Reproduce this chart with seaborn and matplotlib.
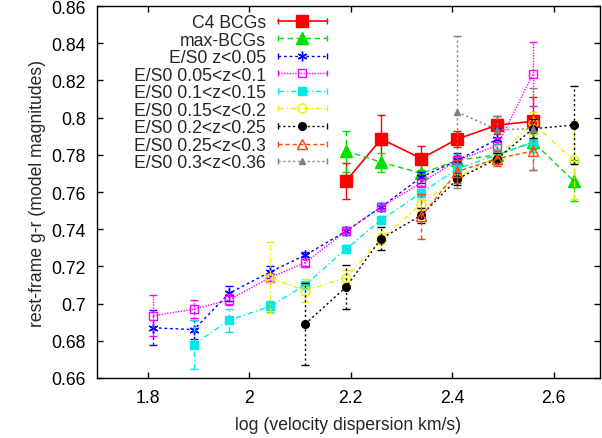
import numpy as np
import pandas as pd
import matplotlib
matplotlib.use("Agg")
import matplotlib.pyplot as plt
import seaborn as sns
from matplotlib.lines import Line2D
from matplotlib.legend_handler import HandlerLine2D
from matplotlib.ticker import FuncFormatter

# ---------------- data ----------------
c4_x = [2.191, 2.260, 2.339, 2.410, 2.489, 2.559]
c4_y = [0.766, 0.7885, 0.778, 0.7885, 0.796, 0.798]
c4_e = [0.0097, 0.013, 0.0067, 0.0045, 0.005, 0.013]

max_x = [2.191, 2.260, 2.339, 2.410, 2.489, 2.559, 2.639]
max_y = [0.782, 0.776, 0.770, 0.777, 0.780, 0.787, 0.766]
max_e = [0.011, 0.005, 0.002, 0.003, 0.003, 0.004, 0.011]

z1_x = [1.811, 1.891, 1.960, 2.041, 2.110, 2.191, 2.260, 2.339, 2.410, 2.489]
z1_y = [0.687, 0.686, 0.7055, 0.717, 0.726, 0.739, 0.752, 0.768, 0.777, 0.7885]
z1_e = [0.0095, 0.005, 0.004, 0.003, 0.002, 0.002, 0.002, 0.003, 0.004, 0.006]

z2_x = [1.811, 1.891, 1.960, 2.041, 2.110, 2.191, 2.260, 2.339, 2.410, 2.489, 2.559]
z2_y = [0.6935, 0.697, 0.702, 0.714, 0.722, 0.739, 0.752, 0.765, 0.777, 0.785, 0.8235]
z2_e = [0.011, 0.005, 0.003, 0.002, 0.002, 0.001, 0.001, 0.002, 0.002, 0.004, 0.017]

z3_x = [1.891, 1.960, 2.041, 2.110, 2.191, 2.260, 2.339, 2.410, 2.489, 2.559]
z3_y = [0.678, 0.691, 0.6985, 0.710, 0.7295, 0.745, 0.7595, 0.7725, 0.780, 0.7865]
z3_e = [0.013, 0.006, 0.003, 0.002, 0.002, 0.002, 0.002, 0.002, 0.003, 0.005]

z4_x = [2.041, 2.110, 2.191, 2.260, 2.339, 2.410, 2.489, 2.559, 2.639]
z4_y = [0.714, 0.707, 0.714, 0.735, 0.7535, 0.768, 0.779, 0.797, 0.777]
z4_e = [0.019, 0.006, 0.004, 0.003, 0.003, 0.003, 0.003, 0.006, 0.021]

z5_x = [2.110, 2.191, 2.260, 2.339, 2.410, 2.489, 2.559, 2.639]
z5_y = [0.689, 0.709, 0.735, 0.7475, 0.767, 0.778, 0.794, 0.796]
z5_e = [0.022, 0.012, 0.006, 0.004, 0.003, 0.003, 0.005, 0.021]

z6_x = [2.339, 2.410, 2.489, 2.559]
z6_y = [0.747, 0.771, 0.778, 0.782]
z6_e = [0.012, 0.006, 0.004, 0.010]

z7_x = [2.410, 2.489, 2.559]
z7_y = [0.803, 0.7935, 0.794]
z7_e = [0.041, 0.0075, 0.022]

labels = ["C4 BCGs", "max-BCGs", "E/S0 z<0.05", "E/S0 0.05<z<0.1",
          "E/S0 0.1<z<0.15", "E/S0 0.15<z<0.2", "E/S0 0.2<z<0.25",
          "E/S0 0.25<z<0.3", "E/S0 0.3<z<0.36"]

x_ticks = [1.8, 2.0, 2.2, 2.4, 2.6]
y_ticks = [0.66, 0.68, 0.70, 0.72, 0.74, 0.76, 0.78, 0.80, 0.82, 0.84, 0.86]

series = [
    (c4_x, c4_y, c4_e), (max_x, max_y, max_e), (z1_x, z1_y, z1_e),
    (z2_x, z2_y, z2_e), (z3_x, z3_y, z3_e), (z4_x, z4_y, z4_e),
    (z5_x, z5_y, z5_e), (z6_x, z6_y, z6_e), (z7_x, z7_y, z7_e),
]

# ---------------- styles ----------------
styles = [
    dict(color="#ff0000", ls="-", marker="s", ms=8.0, filled=True, lw=1.2),
    dict(color="#00e000", ls=(0, (4, 2.5)), marker="^", ms=8.0, filled=True, lw=1.0),
    dict(color="#0000ff", ls=(0, (2, 2)), marker=(6, 2, 0), ms=7.0, filled=True, lw=1.0),
    dict(color="#ff00ff", ls=(0, (1, 1)), marker="s", ms=6.0, filled=False, lw=1.0),
    dict(color="#00e8e8", ls=(0, (4, 2, 1, 2)), marker="s", ms=6.0, filled=True, lw=1.0),
    dict(color="#eeee00", ls=(0, (4, 2, 1, 2)), marker="o", ms=6.5, filled=False, lw=1.0),
    dict(color="#000000", ls=(0, (1.5, 2)), marker="o", ms=5.5, filled=True, lw=1.0),
    dict(color="#ff4500", ls=(0, (3, 2)), marker="^", ms=6.5, filled=False, lw=1.0),
    dict(color="#808080", ls=(0, (1.5, 2)), marker="^", ms=4.5, filled=True, lw=1.0),
]

sns.set_theme(style="ticks")
plt.rcParams["font.family"] = ["Liberation Sans", "DejaVu Sans"]
FS = 12.7

fig = plt.figure(figsize=(6.02, 4.39), dpi=100)
ax = fig.add_axes([97 / 602, 60 / 439, (600 - 97) / 602, (379 - 7) / 439])

for i, ((xs, ys, es), st) in enumerate(zip(series, styles)):
    z = 3 + i
    eb = ax.errorbar(xs, ys, yerr=es, fmt="none", ecolor=st["color"],
                     elinewidth=1.0, capsize=3, capthick=1.0, zorder=z)
    for bl in eb.lines[2]:
        bl.set_linestyle(st["ls"])
    df = pd.DataFrame({"x": xs, "y": ys})
    sns.lineplot(data=df, x="x", y="y", ax=ax, estimator=None, errorbar=None,
                 sort=False, legend=False, color=st["color"],
                 linestyle=st["ls"], lw=st["lw"], marker=st["marker"],
                 markersize=st["ms"],
                 markerfacecolor=st["color"] if st["filled"] else "none",
                 markeredgecolor=st["color"], markeredgewidth=1.0, zorder=z)

ax.set_xlim(1.7, 2.691)
ax.set_ylim(0.66, 0.86)
ax.set_xticks(x_ticks)
ax.set_yticks(y_ticks)
fmt = FuncFormatter(lambda v, p: "%g" % round(v, 4))
ax.xaxis.set_major_formatter(fmt)
ax.yaxis.set_major_formatter(fmt)
ax.tick_params(direction="in", length=4, width=1, top=True, right=True,
               labelsize=FS, colors="black", pad=8)
for sp in ax.spines.values():
    sp.set_color("black")
    sp.set_linewidth(1.0)
ax.set_xlabel("log (velocity dispersion km/s)", fontsize=FS, labelpad=7)
ax.set_ylabel("rest-frame g-r (model magnitudes)", fontsize=FS, labelpad=4)

# ---------------- legend (gnuplot style) ----------------
handles = []
hmap = {}
for st in styles:
    ln = Line2D([], [], color=st["color"], ls=st["ls"], lw=st["lw"],
                marker=st["marker"], ms=st["ms"],
                mfc=st["color"] if st["filled"] else "none",
                mec=st["color"], mew=1.0)
    caps = Line2D([], [], color=st["color"], ls="none", marker="|",
                  ms=5, mew=1.0)
    hmap[caps] = HandlerLine2D(numpoints=2, marker_pad=0)
    handles.append((ln, caps))

leg = ax.legend(handles, labels, handler_map=hmap, loc="upper right",
                bbox_to_anchor=((327 - 97) / 503, (379 - 15) / 372),
                frameon=False, markerfirst=False, fontsize=FS,
                handlelength=2.78, handletextpad=0.68, labelspacing=0.03,
                borderpad=0, borderaxespad=0, numpoints=1)
for col in leg._legend_handle_box.get_children():
    col.align = "right"

fig.savefig("out.png", dpi=100)
